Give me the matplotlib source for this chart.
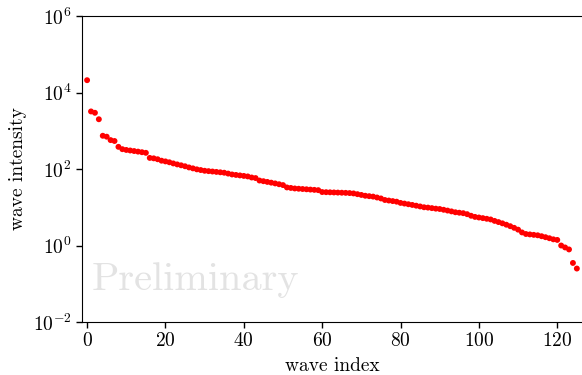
import numpy as np
import matplotlib
matplotlib.use("Agg")
import matplotlib.pyplot as plt
import matplotlib.ticker as ticker

# --- Dados ---
wave_intensity = [
    21000, 3200, 2950, 2000, 740, 700, 570, 540, 380, 330,
    315, 305, 295, 285, 275, 265, 195, 190, 180, 165,
    158, 150, 140, 132, 125, 118, 110, 104, 98, 94,
    90, 88, 86, 84, 82, 80, 76, 72, 70, 68,
    66, 64, 60, 58, 50, 48, 46, 44, 42, 40,
    38, 33, 32, 31, 30.5, 30, 29.5, 29, 28.5, 28,
    25, 24.8, 24.6, 24.4, 24.2, 24, 23.8, 23.5, 23, 22,
    21, 20, 19.5, 19, 18, 17, 15.5, 15, 14.5, 14,
    13, 12.5, 12, 11.5, 11, 10.5, 10, 9.8, 9.5, 9.2,
    9, 8.6, 8.2, 7.8, 7.4, 7.2, 7.0, 6.6, 6.0, 5.6,
    5.4, 5.2, 5.0, 4.8, 4.4, 4.1, 3.8, 3.5, 3.2, 2.9,
    2.6, 2.2, 2.0, 1.95, 1.9, 1.85, 1.75, 1.65, 1.55, 1.45,
    1.4, 1.0, 0.89, 0.79, 0.35, 0.25,
]
wave_index = np.arange(len(wave_intensity))

x_ticks = [0, 20, 40, 60, 80, 100, 120]
y_ticks = [1e-2, 1e0, 1e2, 1e4, 1e6]

# --- Estilo ---
plt.rcParams['font.family'] = 'serif'
plt.rcParams['font.serif'] = ['cmr10', 'DejaVu Serif']
plt.rcParams['mathtext.fontset'] = 'cm'
plt.rcParams['axes.formatter.use_mathtext'] = True
plt.rcParams['font.size'] = 14

fig = plt.figure(figsize=(5.82, 3.75), dpi=100)
ax = fig.add_axes([0.1409, 0.1413, 0.859, 0.816])

ax.scatter(wave_index, wave_intensity, s=18, color='red', edgecolors='none', zorder=3)

ax.set_yscale('log')
ax.set_ylim(1e-2, 1e6)
ax.set_xlim(-1.3, 126.3)
ax.set_xticks(x_ticks)
ax.yaxis.set_major_locator(ticker.FixedLocator(y_ticks))
ax.yaxis.set_minor_locator(ticker.NullLocator())
ax.yaxis.set_major_formatter(ticker.LogFormatterSciNotation())

ax.spines['right'].set_visible(False)
ax.tick_params(direction='out', length=4, width=1, labelsize=14)

ax.set_xlabel("wave index", fontsize=14, labelpad=5)
ax.set_ylabel("wave intensity", fontsize=14)

# marca d'água
ax.text(0.02, 0.08, "Preliminary", transform=ax.transAxes, fontsize=29,
        color='#e3e3e3', ha='left', va='bottom', zorder=1)

fig.savefig("out.png", dpi=100)
